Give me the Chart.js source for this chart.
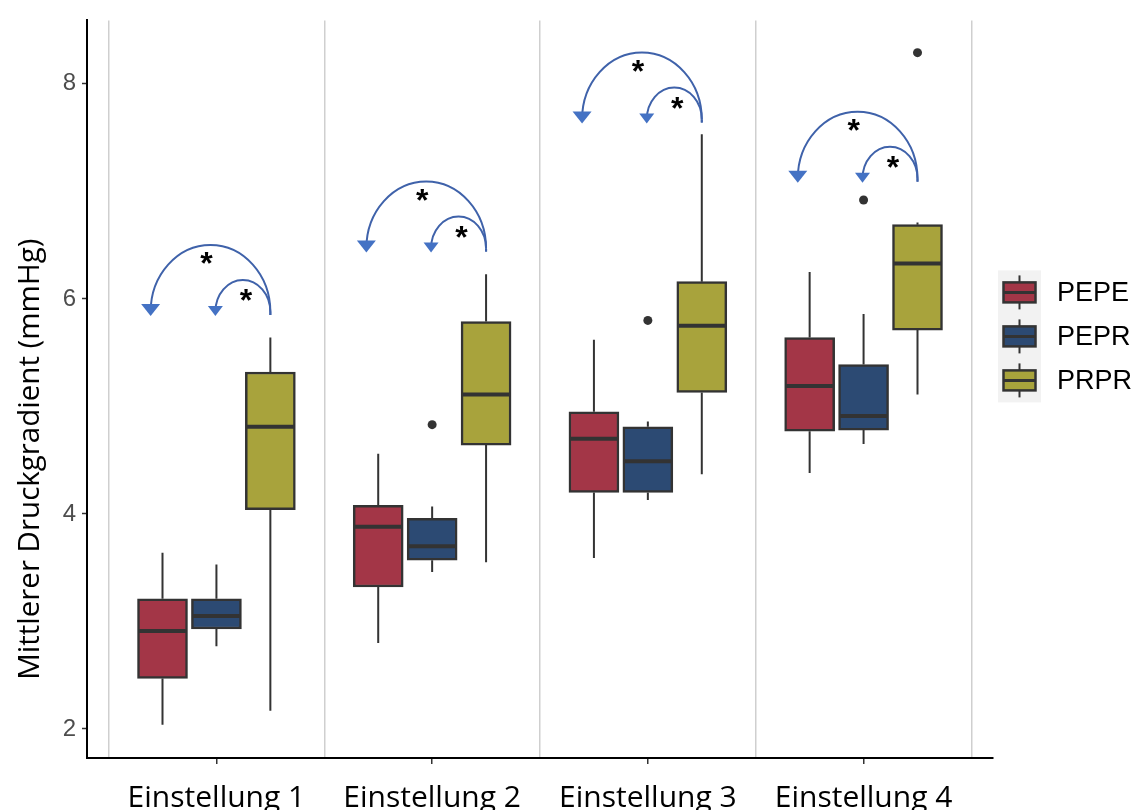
<!DOCTYPE html>
<html>
<head>
<meta charset="utf-8">
<script src="https://cdn.jsdelivr.net/npm/chart.js@4.4.1/dist/chart.umd.min.js"></script>
<style>
  html, body { margin: 0; padding: 0; background: #fff; }
</style>
</head>
<body>
<canvas id="druckChart" width="1143" height="810"></canvas>
<script>
const categories = ['Einstellung 1', 'Einstellung 2', 'Einstellung 3', 'Einstellung 4'];
const groups = ['PEPE', 'PEPR', 'PRPR'];
const yTicks = [2, 4, 6, 8];

// PEPE
const pepeLow  = [2.04, 2.80, 3.59, 4.38];
const pepeQ1   = [2.47, 3.32, 4.20, 4.77];
const pepeMed  = [2.91, 3.88, 4.70, 5.19];
const pepeQ3   = [3.21, 4.08, 4.95, 5.64];
const pepeHigh = [3.64, 4.56, 5.62, 6.25];

// PEPR
const peprLow  = [2.77, 3.46, 4.13, 4.65];
const peprQ1   = [2.93, 3.57, 4.20, 4.78];
const peprMed  = [3.05, 3.70, 4.49, 4.91];
const peprQ3   = [3.21, 3.96, 4.81, 5.39];
const peprHigh = [3.53, 4.07, 4.86, 5.86];
const peprOut  = [[], [4.83], [5.80], [6.92]];

// PRPR
const prprLow  = [2.17, 3.55, 4.37, 5.11];
const prprQ1   = [4.04, 4.64, 5.13, 5.71];
const prprMed  = [4.81, 5.11, 5.75, 6.33];
const prprQ3   = [5.32, 5.79, 6.16, 6.69];
const prprHigh = [5.64, 6.23, 7.53, 6.71];
const prprOut  = [[], [], [], [8.29]];

// Fußpunkt der Signifikanzpfeile (über PRPR)
const arrowBase = [5.85, 6.44, 7.64, 7.09];
const arrowLabel = '*';

const boxColors = ['#a33647', '#2c4a73', '#a8a33c'];
const lineColor = '#333333';
const dodge = 0.25;

const stats = [
  { low: pepeLow, q1: pepeQ1, med: pepeMed, q3: pepeQ3, high: pepeHigh, out: categories.map(() => []) },
  { low: peprLow, q1: peprQ1, med: peprMed, q3: peprQ3, high: peprHigh, out: peprOut },
  { low: prprLow, q1: prprQ1, med: prprMed, q3: prprQ3, high: prprHigh, out: prprOut }
];

const boxDatasets = groups.map((name, g) => ({
  type: 'bar',
  label: name,
  data: categories.map((c, i) => ({ x: i + 1 + (g - 1) * dodge, y: [stats[g].q1[i], stats[g].q3[i]] })),
  stats: stats[g],
  backgroundColor: boxColors[g],
  borderColor: lineColor,
  borderWidth: 2.5,
  borderSkipped: false,
  grouped: false,
  barThickness: 50
}));

const outlierData = [];
stats.forEach((s, g) => {
  s.out.forEach((vals, i) => {
    vals.forEach(v => outlierData.push({ x: i + 1 + (g - 1) * dodge, y: v }));
  });
});

const outlierDataset = {
  type: 'scatter',
  label: 'Ausreißer',
  data: outlierData,
  pointRadius: 4.5,
  pointBackgroundColor: lineColor,
  pointBorderWidth: 0
};

// Whisker und Median über die Boxen legen
const boxWhisker = {
  id: 'boxWhisker',
  afterDatasetDraw(chart, args) {
    const ds = chart.data.datasets[args.index];
    if (!ds.stats) return;
    const y = chart.scales.y;
    const ctx = chart.ctx;
    const s = ds.stats;
    ctx.save();
    ctx.strokeStyle = lineColor;
    args.meta.data.forEach((bar, i) => {
      const half = bar.width / 2;
      ctx.lineWidth = 2;
      ctx.beginPath();
      ctx.moveTo(bar.x, y.getPixelForValue(s.high[i]));
      ctx.lineTo(bar.x, y.getPixelForValue(s.q3[i]));
      ctx.moveTo(bar.x, y.getPixelForValue(s.q1[i]));
      ctx.lineTo(bar.x, y.getPixelForValue(s.low[i]));
      ctx.stroke();
      const m = y.getPixelForValue(s.med[i]);
      ctx.lineWidth = 4;
      ctx.beginPath();
      ctx.moveTo(bar.x - half + 1, m);
      ctx.lineTo(bar.x + half - 1, m);
      ctx.stroke();
    });
    ctx.restore();
  }
};

// Bogenpfeile von PRPR zu PEPE bzw. PEPR
const sigArrows = {
  id: 'sigArrows',
  afterDatasetsDraw(chart) {
    const { ctx, scales: { x, y } } = chart;
    ctx.save();
    arrowBase.forEach((base, i) => {
      const c = i + 1;
      const startX = x.getPixelForValue(c + dodge);
      const by = y.getPixelForValue(base);
      const arcs = [
        { tipX: x.getPixelForValue(c - 0.305), rise: 70, headW: 19, headH: 12, starDx: -4, starDy: 11 },
        { tipX: x.getPixelForValue(c - 0.005), rise: 35, headW: 15, headH: 10, starDx: 3, starDy: 13 }
      ];
      arcs.forEach(a => {
        const cx = (startX + a.tipX) / 2;
        const rx = (startX - a.tipX) / 2;
        ctx.strokeStyle = '#3f62aa';
        ctx.lineWidth = 2;
        ctx.beginPath();
        ctx.ellipse(cx, by - 3, rx, a.rise - 3, 0, 0, Math.PI, true);
        ctx.stroke();
        ctx.beginPath();
        ctx.moveTo(startX, by - 3);
        ctx.lineTo(startX, by);
        ctx.stroke();
        ctx.fillStyle = '#4472c4';
        ctx.beginPath();
        ctx.moveTo(a.tipX - a.headW / 2, by - a.headH + 1);
        ctx.lineTo(a.tipX + a.headW / 2, by - a.headH + 1);
        ctx.lineTo(a.tipX, by + 1);
        ctx.closePath();
        ctx.fill();
        ctx.fillStyle = '#000';
        ctx.font = 'bold 32px "Liberation Sans"';
        ctx.textAlign = 'center';
        ctx.textBaseline = 'alphabetic';
        ctx.fillText(arrowLabel, cx + a.starDx, by - a.rise + a.starDy + 18);
      });
    });
    ctx.restore();
  }
};

// Achsentitel links
const yTitle = {
  id: 'yTitle',
  afterDraw(chart) {
    const { ctx, chartArea } = chart;
    ctx.save();
    ctx.translate(31, (chartArea.top + chartArea.bottom) / 2 + 70);
    ctx.rotate(-Math.PI / 2);
    ctx.font = '29.5px "Open Sans"';
    ctx.fillStyle = '#000';
    ctx.textAlign = 'center';
    ctx.textBaseline = 'middle';
    ctx.fillText('Mittlerer Druckgradient (mmHg)', 0, 0);
    ctx.restore();
  }
};

// Legende mit Boxplot-Symbolen
const boxLegend = {
  id: 'boxLegend',
  afterDraw(chart) {
    const { ctx, chartArea } = chart;
    const keyLeft = chartArea.right + 5;
    const keyW = 43, keyH = 44;
    const top = chartArea.top + 250;
    ctx.save();
    ctx.fillStyle = '#f2f2f2';
    ctx.fillRect(keyLeft, top, keyW, keyH * groups.length);
    groups.forEach((name, g) => {
      const cy = top + keyH * g + keyH / 2;
      const cx = keyLeft + keyW / 2;
      ctx.strokeStyle = lineColor;
      ctx.lineWidth = 2;
      ctx.beginPath();
      ctx.moveTo(cx, cy - 17);
      ctx.lineTo(cx, cy + 17);
      ctx.stroke();
      ctx.lineWidth = 2.5;
      ctx.fillStyle = boxColors[g];
      ctx.fillRect(cx - 16, cy - 10, 32, 20);
      ctx.strokeRect(cx - 16, cy - 10, 32, 20);
      ctx.lineWidth = 3;
      ctx.beginPath();
      ctx.moveTo(cx - 16, cy);
      ctx.lineTo(cx + 16, cy);
      ctx.stroke();
      ctx.fillStyle = '#000';
      ctx.font = '27px "Liberation Sans"';
      ctx.textAlign = 'left';
      ctx.textBaseline = 'middle';
      ctx.fillText(name, keyLeft + 59, cy + 1);
    });
    ctx.restore();
  }
};

const ctx = document.getElementById('druckChart').getContext('2d');

new Chart(ctx, {
  type: 'bar',
  data: {
    datasets: [...boxDatasets, outlierDataset]
  },
  options: {
    responsive: false,
    animation: false,
    layout: { padding: { top: 15, right: 150, bottom: 0, left: 0 } },
    plugins: {
      legend: { display: false },
      tooltip: { enabled: false }
    },
    scales: {
      x: {
        type: 'linear',
        min: 0.4,
        max: 4.6,
        offset: false,
        afterFit(scale) { scale.height = 52; },
        afterBuildTicks(scale) {
          scale.ticks = [0.5, 1, 1.5, 2, 2.5, 3, 3.5, 4, 4.5].map(v => ({ value: v }));
        },
        border: { display: true, color: '#000', width: 2 },
        grid: {
          offset: false,
          color: c => (c.tick && Number.isInteger(c.tick.value)) ? 'rgba(0,0,0,0)' : '#cfcfcf',
          tickColor: c => (c.tick && Number.isInteger(c.tick.value)) ? lineColor : 'rgba(0,0,0,0)',
          lineWidth: 1.5,
          tickWidth: 1.5,
          tickLength: 6
        },
        ticks: {
          autoSkip: false,
          maxRotation: 0,
          padding: 16,
          color: '#000',
          font: { family: 'Open Sans', size: 30 },
          callback: v => Number.isInteger(v) ? categories[v - 1] : ''
        }
      },
      y: {
        min: 1.73,
        max: 8.59,
        afterFit(scale) { scale.width = 87; },
        afterBuildTicks(scale) {
          scale.ticks = yTicks.map(v => ({ value: v }));
        },
        border: { display: true, color: '#000', width: 2 },
        grid: {
          drawOnChartArea: false,
          tickColor: lineColor,
          tickWidth: 1.5,
          tickLength: 5
        },
        ticks: {
          padding: 6,
          color: '#4d4d4d',
          font: { family: 'Liberation Sans', size: 24 }
        }
      }
    }
  },
  plugins: [boxWhisker, sigArrows, yTitle, boxLegend]
});
</script>
</body>
</html>
